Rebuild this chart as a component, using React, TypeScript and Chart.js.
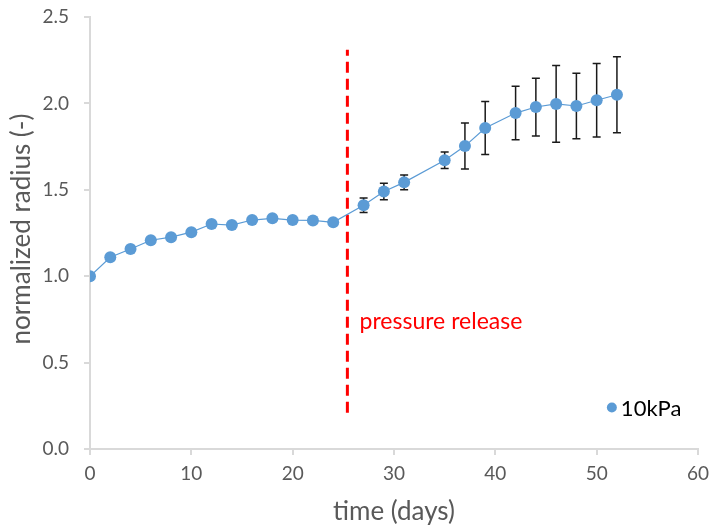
import React, { useEffect, useRef } from "react";
import { Chart, registerables } from "chart.js";

Chart.register(...registerables);

const days = [0, 2, 4, 6, 8, 10, 12, 14, 16, 18, 20, 22, 24, 27, 29, 31, 35, 37, 39, 42, 44, 46, 48, 50, 52];
const radius = [1.0, 1.11, 1.157, 1.208, 1.226, 1.255, 1.302, 1.296, 1.325, 1.335, 1.325, 1.323, 1.312, 1.41, 1.49, 1.543, 1.671, 1.753, 1.858, 1.944, 1.979, 1.997, 1.985, 2.018, 2.05];
const radiusErr = [0, 0, 0, 0, 0, 0, 0, 0, 0, 0, 0, 0, 0, 0.042, 0.048, 0.042, 0.048, 0.133, 0.153, 0.155, 0.167, 0.222, 0.19, 0.213, 0.22];

const xTicks = [0, 10, 20, 30, 40, 50, 60];
const yTicks = [0, 0.5, 1.0, 1.5, 2.0, 2.5];

const releaseDay = [25.4, 25.4];
const releaseSpan = [0.21, 2.31];

const seriesName = "10kPa";
const releaseLabel = "pressure release";
const releaseLabelAt = [26.6, 0.74];
const legendAt = [51.5, 0.24];
const xTitle = "time (days)";
const yTitle = "normalized radius (-)";

const FONT = "Lato, 'Open Sans', sans-serif";
const BLUE = "#5B9BD5";
const GREY_TEXT = "#595959";
const AXIS = "#D9D9D9";

const zeroPad = (s: any) => {
  s.paddingTop = 0;
  s.paddingBottom = 0;
  s.paddingLeft = 0;
  s.paddingRight = 0;
};

export default function App() {
  const ref = useRef<HTMLCanvasElement | null>(null);

  useEffect(() => {
    if (!ref.current) return;

    const errorBars = {
      id: "errorBars",
      beforeDatasetsDraw(chart: any) {
        const ctx = chart.ctx;
        const xs = chart.scales.x;
        const ys = chart.scales.y;
        ctx.save();
        ctx.strokeStyle = "#1a1a1a";
        ctx.lineWidth = 1.5;
        days.forEach((d, i) => {
          const e = radiusErr[i];
          if (!e) return;
          const px = xs.getPixelForValue(d);
          const top = ys.getPixelForValue(radius[i] + e);
          const bot = ys.getPixelForValue(radius[i] - e);
          ctx.beginPath();
          ctx.moveTo(px, top);
          ctx.lineTo(px, bot);
          ctx.moveTo(px - 4, top);
          ctx.lineTo(px + 4, top);
          ctx.moveTo(px - 4, bot);
          ctx.lineTo(px + 4, bot);
          ctx.stroke();
        });
        ctx.restore();
      },
    };

    const annotations = {
      id: "annotations",
      afterDraw(chart: any) {
        const ctx = chart.ctx;
        const xs = chart.scales.x;
        const ys = chart.scales.y;
        const area = chart.chartArea;
        ctx.save();
        ctx.fillStyle = "#FF0000";
        ctx.font = `23px ${FONT}`;
        ctx.textAlign = "left";
        ctx.textBaseline = "middle";
        ctx.fillText(releaseLabel, xs.getPixelForValue(releaseLabelAt[0]), ys.getPixelForValue(releaseLabelAt[1]));
        const lx = xs.getPixelForValue(legendAt[0]);
        const ly = ys.getPixelForValue(legendAt[1]);
        ctx.fillStyle = BLUE;
        ctx.beginPath();
        ctx.arc(lx, ly, 5, 0, Math.PI * 2);
        ctx.fill();
        ctx.fillStyle = "#000000";
        ctx.font = `22px ${FONT}`;
        ctx.fillText(seriesName, lx + 9, ly + 1);
        ctx.fillStyle = GREY_TEXT;
        ctx.font = `26px ${FONT}`;
        ctx.textAlign = "center";
        ctx.textBaseline = "middle";
        ctx.fillText(xTitle, (area.left + area.right) / 2, 512);
        ctx.translate(22, 229);
        ctx.rotate(-Math.PI / 2);
        ctx.fillText(yTitle, 0, 0);
        ctx.restore();
      },
    };

    const chart = new Chart(ref.current, {
      type: "line",
      data: {
        datasets: [
          {
            label: seriesName,
            data: days.map((d, i) => ({ x: d, y: radius[i] })),
            borderColor: BLUE,
            backgroundColor: BLUE,
            borderWidth: 1.2,
            pointRadius: 6,
            pointHoverRadius: 6,
            pointBorderWidth: 0,
            pointBackgroundColor: BLUE,
            tension: 0,
          },
          {
            label: "release",
            data: releaseDay.map((d, i) => ({ x: d, y: releaseSpan[i] })),
            borderColor: "#FF0000",
            borderWidth: 3,
            borderDash: [11, 6],
            pointRadius: 0,
          },
        ],
      },
      options: {
        responsive: false,
        animation: false,
        layout: { padding: { left: 0, right: 12, top: 17, bottom: 0 } },
        plugins: { legend: { display: false }, tooltip: { enabled: false } },
        scales: {
          x: {
            type: "linear",
            min: 0,
            max: 60,
            afterBuildTicks: (s: any) => {
              s.ticks = xTicks.map((v) => ({ value: v }));
            },
            afterFit: (s: any) => {
              s.height = 80;
              zeroPad(s);
            },
            ticks: { color: GREY_TEXT, font: { family: FONT, size: 19 }, padding: 7 },
            grid: { drawOnChartArea: false, drawTicks: true, tickLength: 6, color: AXIS, lineWidth: 2 },
            border: { color: AXIS, width: 2 },
          },
          y: {
            type: "linear",
            min: 0,
            max: 2.5,
            afterBuildTicks: (s: any) => {
              s.ticks = yTicks.map((v) => ({ value: v }));
            },
            afterFit: (s: any) => {
              s.width = 90;
              zeroPad(s);
            },
            ticks: {
              color: GREY_TEXT,
              font: { family: FONT, size: 19 },
              padding: 15,
              callback: (v: any) => Number(v).toFixed(1),
            },
            grid: { drawOnChartArea: false, drawTicks: true, tickLength: 6, color: AXIS, lineWidth: 2 },
            border: { color: AXIS, width: 2 },
          },
        },
      },
      plugins: [errorBars, annotations],
    });

    return () => chart.destroy();
  }, []);

  return (
    <div style={{ position: "fixed", left: 0, top: 0, width: 710, height: 529, background: "#fff" }}>
      <canvas ref={ref} width={710} height={529} style={{ width: 710, height: 529 }} />
    </div>
  );
}
